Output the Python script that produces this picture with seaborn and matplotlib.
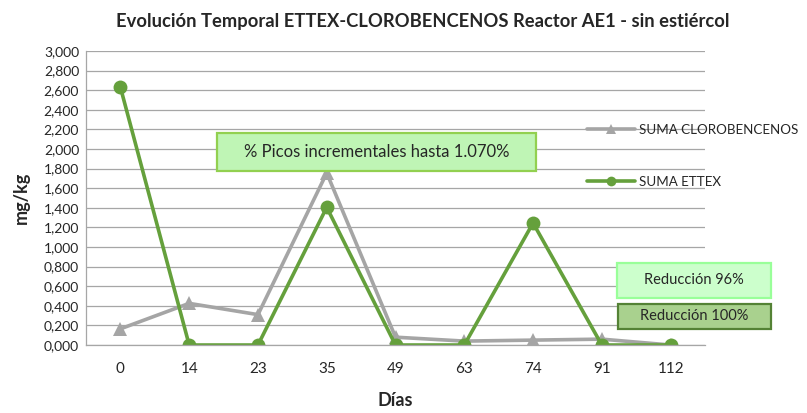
import pandas as pd
import matplotlib.pyplot as plt
import seaborn as sns
from matplotlib.ticker import FuncFormatter
from matplotlib.patches import Rectangle

# === Datos ===
dias = ["0", "14", "23", "35", "49", "63", "74", "91", "112"]
suma_clorobencenos = [0.165, 0.425, 0.31, 1.755, 0.08, 0.04, 0.05, 0.06, 0.0]
suma_ettex = [2.63, 0.0, 0.0, 1.405, 0.0, 0.0, 1.245, 0.0, 0.0]
series = ["SUMA CLOROBENCENOS", "SUMA ETTEX"]
colores = ["#A5A5A5", "#65A03C"]
marcadores = ["^", "o"]

# === Formato largo ===
df = pd.DataFrame({
    "Días": dias * 2,
    "Valor": suma_clorobencenos + suma_ettex,
    "Serie": [series[0]] * len(dias) + [series[1]] * len(dias),
})

sns.set_style("white")
plt.rcParams["font.family"] = ["Lato", "DejaVu Sans"]

fig = plt.figure(figsize=(8.07, 4.13), dpi=100)
ax = fig.add_axes([0.1066, 0.1646, 0.767, 0.712])

sns.lineplot(
    data=df, x="Días", y="Valor", hue="Serie", style="Serie",
    palette=colores, markers=marcadores, dashes=False,
    linewidth=2.6, markersize=10, markeredgewidth=0, ax=ax, sort=False,
)

ax.set_ylim(0, 3.0)
ax.set_xlim(-0.5, len(dias) - 0.5)
ax.set_yticks([i * 0.2 for i in range(16)])
ax.yaxis.set_major_formatter(FuncFormatter(lambda v, p: f"{v:.3f}".replace(".", ",")))
ax.grid(axis="y", color="#A6A6A6", linewidth=0.9)
ax.set_axisbelow(True)
for s in ["top", "right"]:
    ax.spines[s].set_visible(False)
for s in ["left", "bottom"]:
    ax.spines[s].set_color("#A6A6A6")
    ax.spines[s].set_linewidth(0.9)
ax.tick_params(axis="y", length=3, color="#A6A6A6", labelsize=10, pad=2)
ax.tick_params(axis="x", length=0, labelsize=11, pad=12)

fig.text(0.524, 0.947, "Evolución Temporal ETTEX-CLOROBENCENOS Reactor AE1 - sin estiércol",
         ha="center", va="center", fontsize=13.2, fontweight="bold")
ax.set_xlabel("Días", fontsize=13, fontweight="bold", labelpad=12)
ax.set_ylabel("mg/kg", fontsize=13, fontweight="bold", labelpad=10)

leg = ax.legend(loc="center left", bbox_to_anchor=(0.728, 0.622), bbox_transform=fig.transFigure,
                frameon=False, fontsize=9.6, labelspacing=3.0, handlelength=3.6,
                handletextpad=0.3, markerscale=0.7, borderaxespad=0, borderpad=0)

# === Cuadros de texto ===
def cuadro(x0, y0, x1, y1, texto, fc, ec, fs):
    W, H = 807, 413
    fig.patches.append(Rectangle((x0 / W, 1 - y1 / H), (x1 - x0) / W, (y1 - y0) / H,
                                 transform=fig.transFigure, fc=fc, ec=ec, lw=1.6, zorder=5))
    fig.text((x0 + x1) / 2 / W, 1 - (y0 + y1) / 2 / H, texto, ha="center", va="center",
             fontsize=fs, zorder=6)

cuadro(217, 133, 536, 171, "% Picos incrementales hasta 1.070%", "#BFF5B5", "#92D050", 12)
cuadro(617, 263, 771, 298, "Reducción 96%", "#CCFFCC", "#99FF99", 10.5)
cuadro(618, 304, 771, 329, "Reducción 100%", "#A9D18E", "#548235", 10.5)

plt.savefig("out.png", dpi=100)
